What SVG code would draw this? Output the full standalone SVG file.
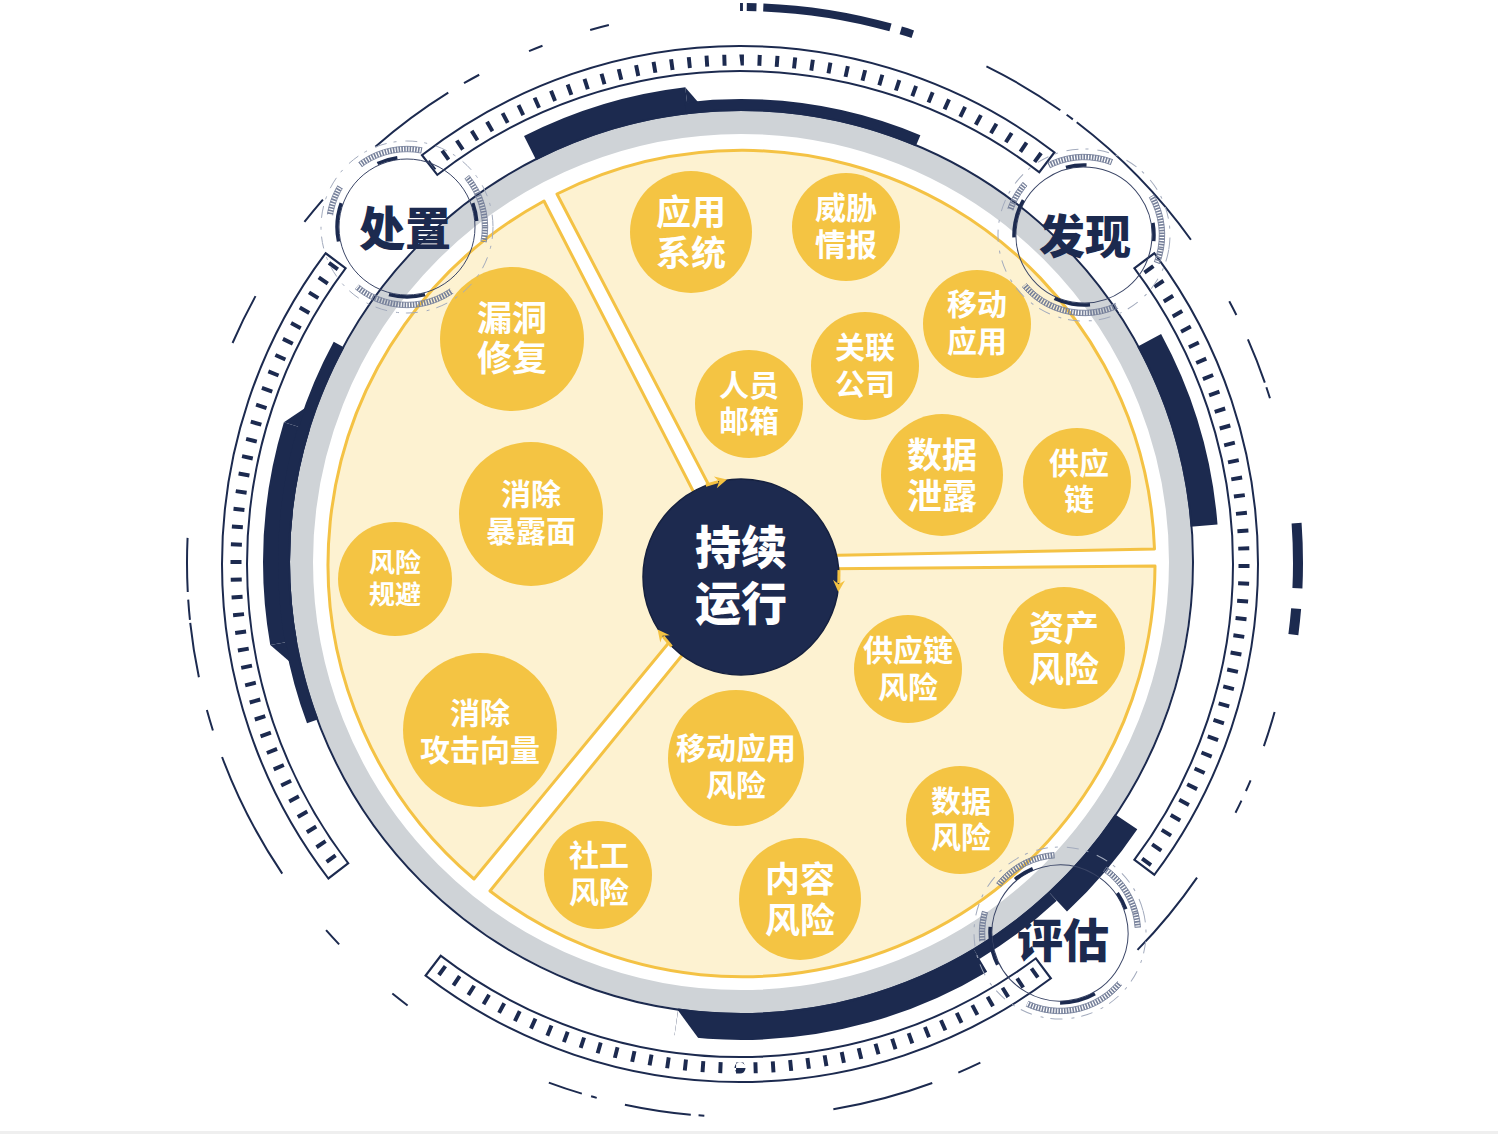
<svg xmlns="http://www.w3.org/2000/svg" width="1498" height="1134" viewBox="0 0 1498 1134">
<style>
.nv{fill:none;stroke:#1C2A4F}
.nvf{fill:#1C2A4F}
.sec{fill:#FDF2D1;stroke:#F4C244;stroke-width:3;stroke-linejoin:round}
.bub{fill:#F4C443}
.bt{font-family:"Liberation Sans","Noto Sans CJK SC","Noto Sans CJK JP",sans-serif;font-weight:700;fill:#FFFFFF;text-anchor:middle;dominant-baseline:central}
.lt{font-family:"Liberation Sans","Noto Sans CJK SC","Noto Sans CJK JP",sans-serif;font-weight:900;fill:#1C2A4F;text-anchor:middle;dominant-baseline:central;font-size:46px}
.ct{font-family:"Liberation Sans","Noto Sans CJK SC","Noto Sans CJK JP",sans-serif;font-weight:900;fill:#FFFFFF;text-anchor:middle;dominant-baseline:central;font-size:46px}
</style>
<defs>
<mask id="tickMask"><circle cx="740" cy="564" r="505.5" fill="none" stroke="#fff" stroke-width="23" pathLength="360" stroke-dasharray="36.75 16.5 74 15.5 74 15.5 75 16 36.75"/></mask>
<mask id="chainMask" maskUnits="userSpaceOnUse" x="-100" y="-100" width="200" height="200"><circle r="78" fill="none" stroke="#fff" stroke-width="10" pathLength="360" stroke-dasharray="11 44 75 59 22 22 48 39 40"/></mask>
<g id="deco">
<circle r="86" fill="none" stroke="#A3ABBD" stroke-width="1" stroke-dasharray="12 7 3 9"/>
<g mask="url(#chainMask)">
<circle r="78" fill="none" stroke="#76809A" stroke-width="5.5" stroke-dasharray="1.6 1.2"/>
<circle r="75.3" fill="none" stroke="#76809A" stroke-width="0.8"/>
<circle r="80.7" fill="none" stroke="#76809A" stroke-width="0.8"/>
</g>
<circle r="68" fill="none" stroke="#3A4566" stroke-width="1"/>
<circle r="70" fill="none" stroke="#1C2A4F" stroke-width="3.5" pathLength="360" stroke-dasharray="0 75 30 63 32 45 17 78 15 5"/>
</g>
<g id="arr">
<path d="M838.5 565 L839 578" fill="none" stroke="#F4C242" stroke-width="3"/>
<polygon points="833,575 839,587 845,575 839,579" fill="#F4C242"/>
</g>
</defs>
<rect width="1498" height="1134" fill="#FFFFFF"/>
<rect x="0" y="1131" width="1498" height="3" fill="#EFEFEF"/>

<g id="rings">
<circle class="nv" cx="741" cy="563" r="554" stroke-width="2" pathLength="360" stroke-dasharray="0 15.6 3.7 3.8 1.2 1.1 1.4 7.8 9.7 20.1 2.5 2.9 10.6 13.4 0.6 0.8 6.9 3 0.6 1 3.6 16.7 2 7.5 2 7.4 13.6 2.9 2.2 3.5 5.7 0.3 2.1 0.8 5.6 20.8 5.4 9.2 3 7.7 9.4 1.9 1.8 5.7 1.5 5.2 2 40.1 8.9 0.8 0.8 0.5 17 7.5 1.6 2.8 4.8 0.5 1.2 17.3"/>
<circle class="nv" cx="741" cy="563" r="556" stroke-width="8" pathLength="360" stroke-dasharray="0 269.9 0.3 0.4 1 0.7 13.3 1.1 1.3 72"/>
<circle class="nv" cx="741" cy="563" r="557" stroke-width="10" pathLength="360" stroke-dasharray="2.6 2.1 2.7 348.5 4.1"/>
<circle cx="740" cy="564" r="505.5" fill="none" stroke="#1C2A4F" stroke-width="27" pathLength="360" stroke-dasharray="37 16 74.5 15 74.5 15 75.5 15.5 37"/>
<circle cx="740" cy="564" r="505.5" fill="none" stroke="#FFFFFF" stroke-width="23" pathLength="360" stroke-dasharray="36.75 16.5 74 15.5 74 15.5 75 16 36.75"/>
<circle cx="740" cy="564" r="504" fill="none" stroke="#1C2A4F" stroke-width="11" pathLength="360" stroke-dasharray="0.45 1.55" mask="url(#tickMask)"/>
<circle cx="741" cy="562" r="439.5" fill="none" stroke="#CFD3D7" stroke-width="23"/>
<circle class="nv" cx="741" cy="562" r="464.5" stroke-width="27" pathLength="360" stroke-dasharray="0 34 13 12 39 72 27 46 20.3 68.2 24 4.5"/>
<circle class="nv" cx="741" cy="562" r="457" stroke-width="12" pathLength="360" stroke-dasharray="0 47 12 100.6 48.8 54.6 29.8 67.2"/>
<polygon class="nvf" points="685.2,87.3 698,102 687.1,103.1"/>
<polygon class="nvf" points="305.5,407.8 283.9,422.2 299.2,426.9"/>
<polygon class="nvf" points="270.3,645 286,642.2 290,662"/>
<polygon fill="#FFFFFF" points="678.1,1010.6 674.3,1037 699.3,1039.6"/>
<circle class="nv" cx="741" cy="562" r="452" stroke-width="2"/>
</g>

<g id="sectors">
<path class="sec" d="M727 520 L557 194 A413 413 0 0 1 1154.5 549 L800 556 Z"/>
<path class="sec" d="M800 569 L1155 566 A413 413 0 0 1 490 891 L719 610 Z"/>
<path class="sec" d="M704 600 L474 879 A413 413 0 0 1 544 201 L708 520 Z"/>
</g>

<g id="n-yingyong"><circle class="bub" cx="691" cy="232" r="61"/><text class="bt" font-size="35"><tspan x="691" y="212">应用</tspan><tspan x="691" y="253">系统</tspan></text></g>
<g id="n-weixie"><circle class="bub" cx="846" cy="227" r="54"/><text class="bt" font-size="31"><tspan x="846" y="208">威胁</tspan><tspan x="846" y="245">情报</tspan></text></g>
<g id="n-yidong"><circle class="bub" cx="977" cy="324" r="54"/><text class="bt" font-size="30"><tspan x="977" y="304">移动</tspan><tspan x="977" y="341">应用</tspan></text></g>
<g id="n-guanlian"><circle class="bub" cx="865" cy="366" r="54"/><text class="bt" font-size="30"><tspan x="865" y="347">关联</tspan><tspan x="865" y="384">公司</tspan></text></g>
<g id="n-renyuan"><circle class="bub" cx="749" cy="404" r="54"/><text class="bt" font-size="30"><tspan x="749" y="385">人员</tspan><tspan x="749" y="421">邮箱</tspan></text></g>
<g id="n-shuju"><circle class="bub" cx="942" cy="475" r="61"/><text class="bt" font-size="35"><tspan x="942" y="455">数据</tspan><tspan x="942" y="496">泄露</tspan></text></g>
<g id="n-gongying"><circle class="bub" cx="1077" cy="482" r="54"/><text class="bt" font-size="30"><tspan x="1079" y="463">供应</tspan><tspan x="1079" y="499">链</tspan></text></g>

<g id="n-zichan"><circle class="bub" cx="1064" cy="648" r="61"/><text class="bt" font-size="35"><tspan x="1064" y="628">资产</tspan><tspan x="1064" y="669">风险</tspan></text></g>
<g id="n-gylfx"><circle class="bub" cx="908" cy="669" r="54"/><text class="bt" font-size="30"><tspan x="908" y="650">供应链</tspan><tspan x="908" y="687">风险</tspan></text></g>
<g id="n-ydyyfx"><circle class="bub" cx="736" cy="758" r="68"/><text class="bt" font-size="30"><tspan x="736" y="748">移动应用</tspan><tspan x="736" y="785">风险</tspan></text></g>
<g id="n-sjfx"><circle class="bub" cx="960" cy="820" r="54"/><text class="bt" font-size="30"><tspan x="961" y="801">数据</tspan><tspan x="961" y="837">风险</tspan></text></g>
<g id="n-nrfx"><circle class="bub" cx="800" cy="899" r="61"/><text class="bt" font-size="35"><tspan x="800" y="879">内容</tspan><tspan x="800" y="920">风险</tspan></text></g>
<g id="n-sgfx"><circle class="bub" cx="598" cy="875" r="54"/><text class="bt" font-size="30"><tspan x="599" y="855">社工</tspan><tspan x="599" y="892">风险</tspan></text></g>

<g id="n-loudong"><circle class="bub" cx="512" cy="339" r="72"/><text class="bt" font-size="35"><tspan x="512" y="318">漏洞</tspan><tspan x="512" y="358">修复</tspan></text></g>
<g id="n-baolu"><circle class="bub" cx="531" cy="514" r="72"/><text class="bt" font-size="30"><tspan x="531" y="494">消除</tspan><tspan x="531" y="531">暴露面</tspan></text></g>
<g id="n-guibi"><circle class="bub" cx="395" cy="579" r="57"/><text class="bt" font-size="26"><tspan x="395" y="563">风险</tspan><tspan x="395" y="595">规避</tspan></text></g>
<g id="n-gongji"><circle class="bub" cx="480" cy="730" r="77"/><text class="bt" font-size="30"><tspan x="480" y="713">消除</tspan><tspan x="480" y="750">攻击向量</tspan></text></g>

<g id="n-center"><circle cx="741" cy="577" r="98" fill="#1D2A4F" stroke="#16213F" stroke-width="1.5"/><text class="ct"><tspan x="741" y="548">持续</tspan><tspan x="741" y="604">运行</tspan></text></g>

<g id="connectors">
<use href="#arr" transform="rotate(-104 741 577)"/>
<use href="#arr" transform="rotate(3 741 577)"/>
<use href="#arr" transform="rotate(142 741 577)"/>
</g>

<g id="l-chuzhi"><use href="#deco" x="407" y="227"/><text class="lt" x="405" y="229">处置</text></g>
<g id="l-faxian"><use href="#deco" x="1084" y="235" transform="rotate(10 1084 235)"/><text class="lt" x="1085" y="237">发现</text></g>
<g id="l-pinggu"><use href="#deco" x="1060" y="933" transform="rotate(-15 1060 933)"/><text class="lt" x="1063" y="941">评估</text></g>
</svg>
